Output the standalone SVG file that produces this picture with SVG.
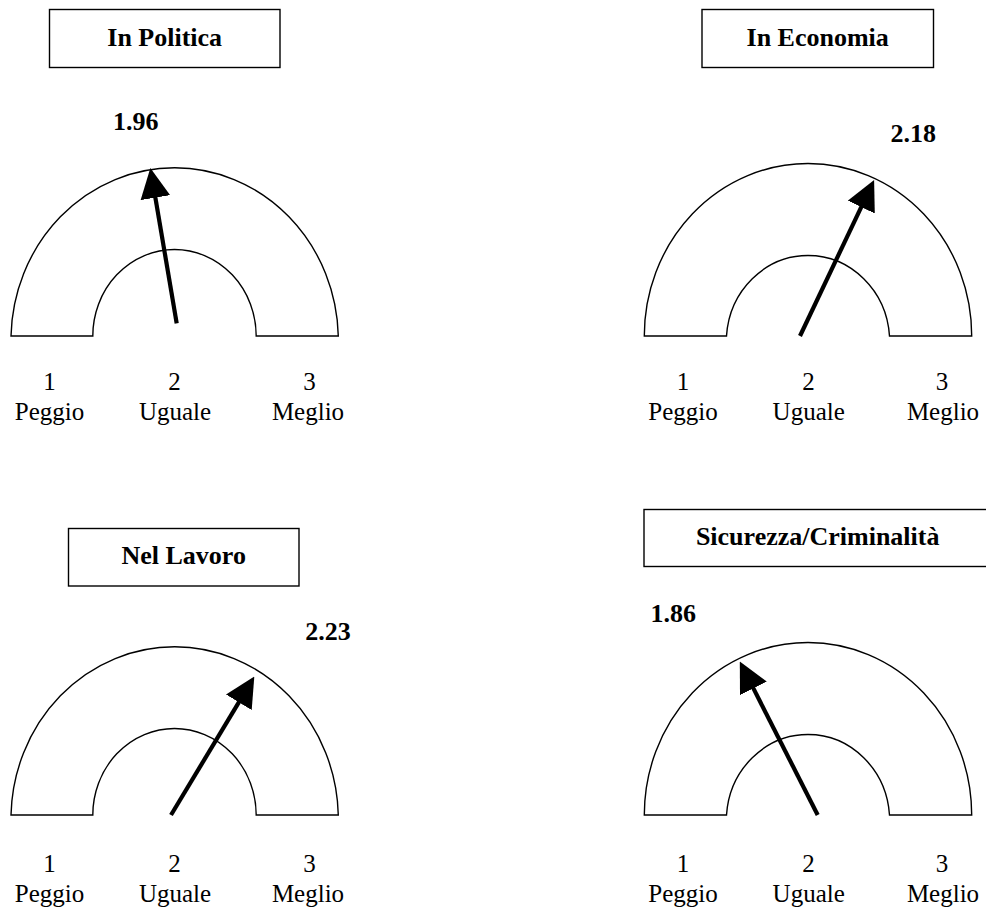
<svg xmlns="http://www.w3.org/2000/svg" width="986" height="910" viewBox="0 0 986 910">
<style>
  .box { fill: #ffffff; stroke: #000000; stroke-width: 1.4; }
  .gauge { fill: #ffffff; stroke: #000000; stroke-width: 1.4; }
  .needle { stroke: #000000; stroke-width: 4.2; fill: none; marker-end: url(#head); }
  .title { font-family: "Liberation Serif", "Times New Roman", serif; font-size: 26px; font-weight: bold; text-anchor: middle; fill: #000; }
  .value { font-family: "Liberation Serif", "Times New Roman", serif; font-size: 26px; font-weight: bold; text-anchor: middle; fill: #000; }
  .tick { font-family: "Liberation Serif", "Times New Roman", serif; font-size: 25px; text-anchor: middle; fill: #000; }
</style>
<defs>
  <marker id="head" markerUnits="userSpaceOnUse" markerWidth="30" markerHeight="30" viewBox="0 0 28 28" refX="1" refY="14" orient="auto">
    <path d="M0,0 L28,14 L0,28 Z" fill="#000000"/>
  </marker>
</defs>
<rect width="986" height="910" fill="#ffffff"/>

<g id="gauge-politica">
  <rect class="box" x="49.5" y="9.5" width="230.5" height="58"/>
  <text class="title" x="164.7" y="46">In Politica</text>
  <text class="value" x="135.8" y="130">1.96</text>
  <path class="gauge" d="M11,336 A163.7,172.5 0 0 1 338.3,336 L256.2,336 A81.7,86.5 0 0 0 92.8,336 Z"/>
  <text class="tick" x="49.5" y="390">1</text>
  <text class="tick" x="174.5" y="390">2</text>
  <text class="tick" x="309.5" y="390">3</text>
  <text class="tick" x="49.5" y="420">Peggio</text>
  <text class="tick" x="175" y="420">Uguale</text>
  <text class="tick" x="308" y="420">Meglio</text>
</g>

<g id="gauge-economia">
  <rect class="box" x="702" y="9.5" width="231.5" height="58"/>
  <text class="title" x="817.7" y="46">In Economia</text>
  <text class="value" x="913.3" y="141.7">2.18</text>
  <path class="gauge" d="M644.3,336 A163.7,172.5 0 0 1 971.7,336 L889.5,336 A81.7,86.5 0 0 0 726.5,336 Z"/>
  <text class="tick" x="683" y="390">1</text>
  <text class="tick" x="808.5" y="390">2</text>
  <text class="tick" x="942" y="390">3</text>
  <text class="tick" x="683" y="420">Peggio</text>
  <text class="tick" x="808.7" y="420">Uguale</text>
  <text class="tick" x="943" y="420">Meglio</text>
</g>

<g id="gauge-lavoro">
  <rect class="box" x="68.5" y="528.5" width="230.5" height="57.5"/>
  <text class="title" x="183.7" y="563.5">Nel Lavoro</text>
  <text class="value" x="328" y="640">2.23</text>
  <path class="gauge" d="M11,815 A163.7,172.5 0 0 1 338.3,815 L256.2,815 A81.7,86.5 0 0 0 92.8,815 Z"/>
  <text class="tick" x="49.5" y="871.7">1</text>
  <text class="tick" x="174.5" y="871.7">2</text>
  <text class="tick" x="309.5" y="871.7">3</text>
  <text class="tick" x="49.5" y="901.5">Peggio</text>
  <text class="tick" x="175" y="901.5">Uguale</text>
  <text class="tick" x="308" y="901.5">Meglio</text>
</g>

<g id="gauge-sicurezza">
  <rect class="box" x="644" y="509.5" width="350" height="57"/>
  <text class="title" x="817.7" y="544.5">Sicurezza/Criminalità</text>
  <text class="value" x="673.3" y="621.7">1.86</text>
  <path class="gauge" d="M644.3,815 A163.7,172.5 0 0 1 971.7,815 L889.5,815 A81.7,86.5 0 0 0 726.5,815 Z"/>
  <text class="tick" x="683" y="871.7">1</text>
  <text class="tick" x="808.5" y="871.7">2</text>
  <text class="tick" x="942" y="871.7">3</text>
  <text class="tick" x="683" y="901.5">Peggio</text>
  <text class="tick" x="808.7" y="901.5">Uguale</text>
  <text class="tick" x="943" y="901.5">Meglio</text>
</g>

<g id="connectors">
  <line class="needle" x1="176.7" y1="323.3" x2="155.2" y2="196.6"/>
  <line class="needle" x1="800" y1="336" x2="861.7" y2="206.1"/>
  <line class="needle" x1="171" y1="815" x2="239.4" y2="701.4"/>
  <line class="needle" x1="817.7" y1="815" x2="752.9" y2="687.4"/>
</g>
</svg>
